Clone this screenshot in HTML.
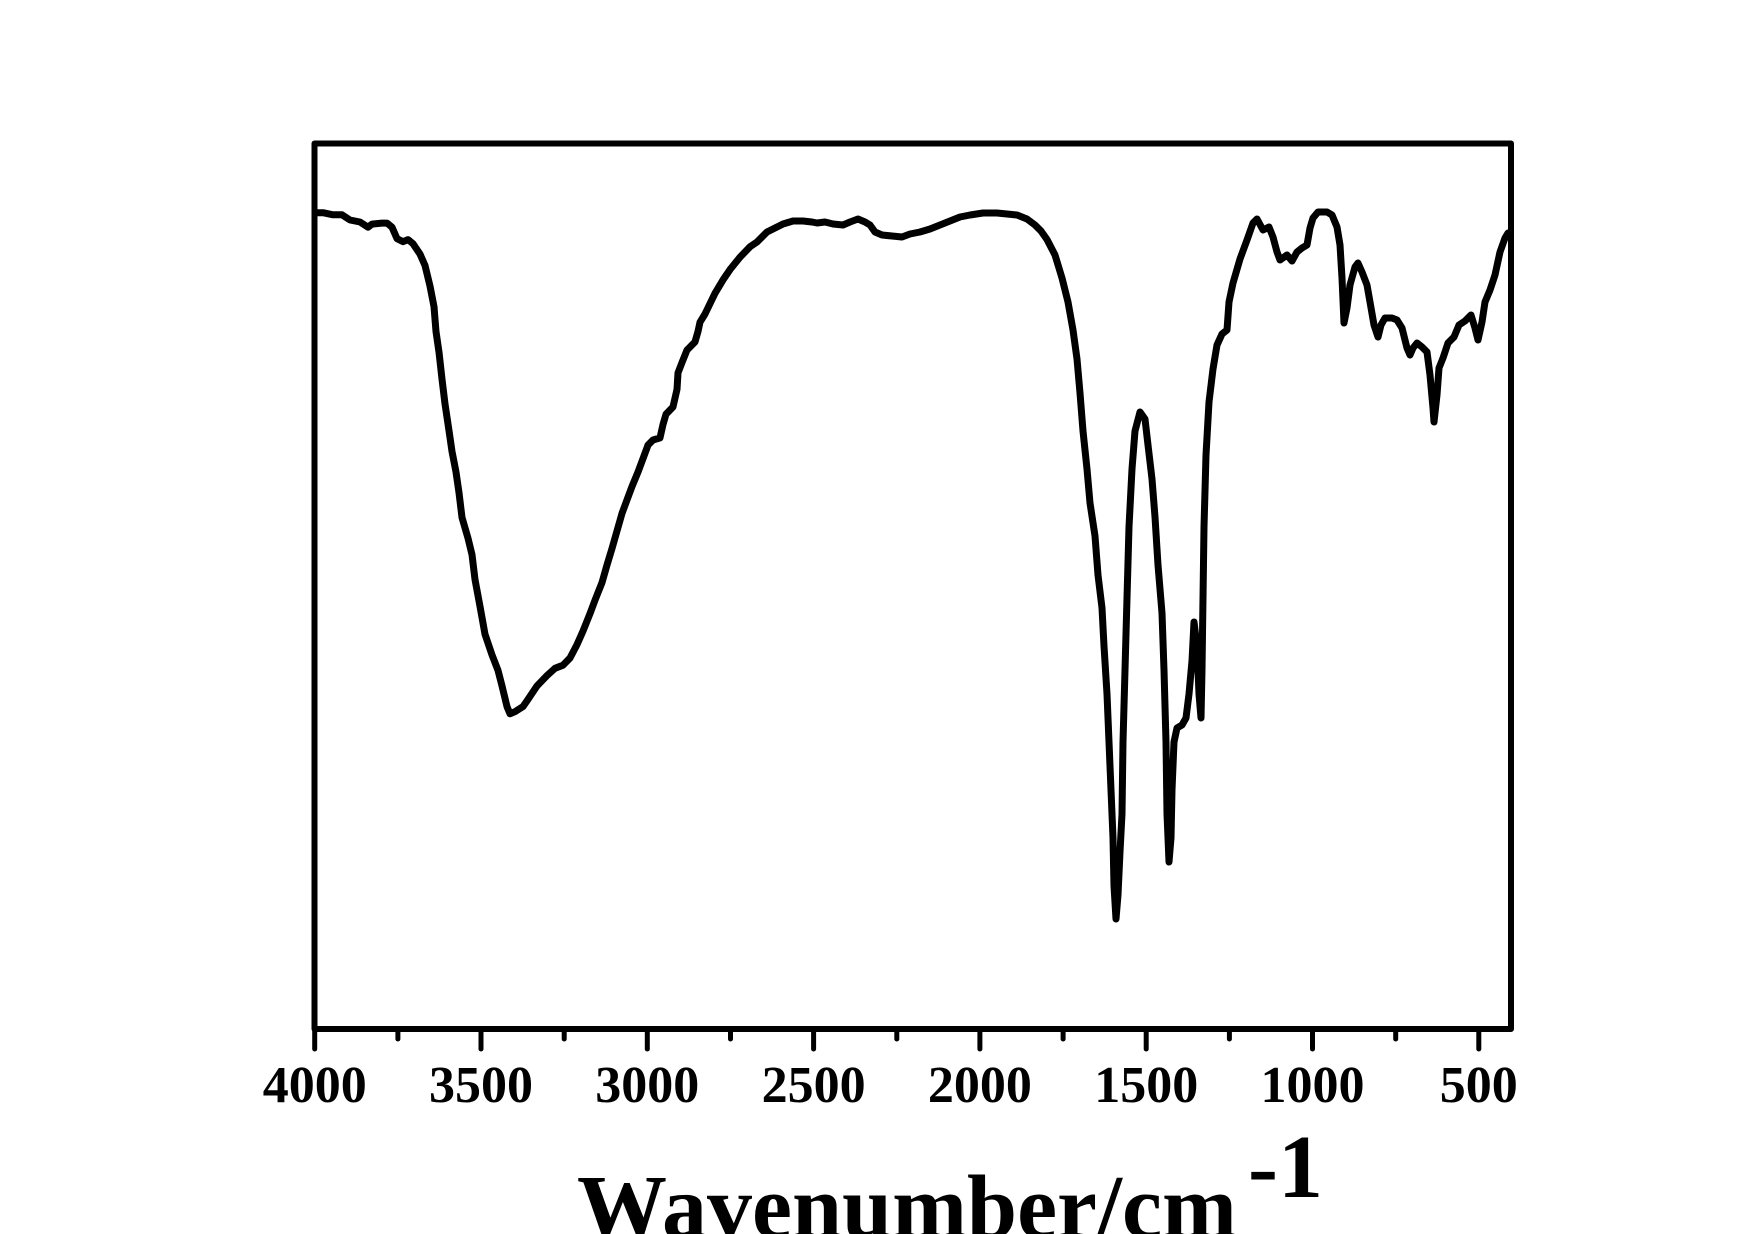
<!DOCTYPE html>
<html>
<head>
<meta charset="utf-8">
<style>
  html, body { margin: 0; padding: 0; background: #ffffff; }
  svg { display: block; }
  text { font-family: "Liberation Serif", "Times New Roman", serif; font-weight: bold; fill: #000; }
</style>
</head>
<body>
<svg width="1755" height="1234" viewBox="0 0 1755 1234" xmlns="http://www.w3.org/2000/svg">
  <rect x="0" y="0" width="1755" height="1234" fill="#ffffff"/>

  <!-- frame -->
  <rect x="314.5" y="143.5" width="1196.5" height="885.5" fill="none" stroke="#000" stroke-width="6" stroke-linejoin="round"/>

  <!-- ticks -->
  <g stroke="#000" stroke-width="5" stroke-linecap="round">
    <line x1="314.7" y1="1029" x2="314.7" y2="1049"/>
    <line x1="397.9" y1="1029" x2="397.9" y2="1039"/>
    <line x1="481.0" y1="1029" x2="481.0" y2="1049"/>
    <line x1="564.2" y1="1029" x2="564.2" y2="1039"/>
    <line x1="647.3" y1="1029" x2="647.3" y2="1049"/>
    <line x1="730.5" y1="1029" x2="730.5" y2="1039"/>
    <line x1="813.6" y1="1029" x2="813.6" y2="1049"/>
    <line x1="896.8" y1="1029" x2="896.8" y2="1039"/>
    <line x1="979.9" y1="1029" x2="979.9" y2="1049"/>
    <line x1="1063.1" y1="1029" x2="1063.1" y2="1039"/>
    <line x1="1146.2" y1="1029" x2="1146.2" y2="1049"/>
    <line x1="1229.4" y1="1029" x2="1229.4" y2="1039"/>
    <line x1="1312.5" y1="1029" x2="1312.5" y2="1049"/>
    <line x1="1395.7" y1="1029" x2="1395.7" y2="1039"/>
    <line x1="1478.8" y1="1029" x2="1478.8" y2="1049"/>
  </g>

  <!-- tick labels -->
  <g font-size="52" text-anchor="middle">
    <text x="314.7" y="1102">4000</text>
    <text x="481.0" y="1102">3500</text>
    <text x="647.3" y="1102">3000</text>
    <text x="813.6" y="1102">2500</text>
    <text x="979.9" y="1102">2000</text>
    <text x="1146.2" y="1102">1500</text>
    <text x="1312.5" y="1102">1000</text>
    <text x="1478.8" y="1102">500</text>
  </g>

  <!-- axis title -->
  <text x="577" y="1237" font-size="90">Wavenumber/cm</text>
  <text x="1248" y="1197" font-size="90">-1</text>

  <!-- spectrum -->
  <polyline fill="none" stroke="#000" stroke-width="7" stroke-linejoin="round" stroke-linecap="round"
    points="315,212.7 323,212.7 333,214.8 342,214.8 350,220 360,222 368,227.2 372,224.1 382,223.1 387,223.1 392,227.2 397,238.6 403,241.7 408,239.6 413,243.7 420,254.1 425,265.4 430,286.1 434,306.7 436,331.5 439,352.2 442,379.1 445,403.9 449,430.7 452,451.4 456,472 459,492.7 462,517.5 468,538.2 472,554.7 475,579.5 480,606.4 485,634.2 492,654.9 498,670.4 502,685.9 507,706.6 510,713.8 515,711.7 523,706.6 528,699.4 537,685.9 547,675.6 555,668.3 563,665.2 570,658 577,644.6 583,631.1 590,613.6 595,600.2 602,582.6 607,565 612,548.5 617,530.9 622,513.4 627,499.9 632,486.5 638,472 643,458.6 648,445.1 653,440 660,437.9 663,424.5 666,414.2 673,406.9 677,389.4 678,372.9 682,362.5 687,350.1 695,341.9 698,331.5 700,322.2 705,314 710,303.6 715,293.3 723,279.9 730,269.6 740,257.2 750,246.8 757,242 767,232 775,228 783,224 793,221 803,221 812,222 817,223 825,222 833,224 843,225 850,222 858,219 865,222 870,225 875,232 882,235 892,236 902,237 910,234 920,232 930,229 940,225 950,221 960,217 970,215 983,213 997,213 1007,214 1017,215 1027,219 1035,225 1041,231 1047,239.5 1055,255 1062,278 1068,302 1073,330 1077,359 1080,393 1083,431 1087,469 1090,503 1095,536 1098,575 1102,608 1104,646 1107,694 1109,742 1111,790 1113,838 1114,886 1116,919 1118,895 1120,852 1122,814 1123,742 1125,670 1127,598 1129,527 1132,469 1135,431 1140,412 1145,419 1148,445 1152,479 1155,517 1158,565 1162,613 1164,670 1166,742 1167,814 1169,862 1171,838 1172,790 1174,742 1177,728 1182,725 1186,718 1189,694 1192,661 1194,622 1197,646 1199,694 1201,718 1202,670 1203,598 1204,527 1206,455 1209,402 1213,369 1217,345 1222,334 1227,330 1229,302 1233,283 1240,259 1247,240 1253,223 1257,219 1263,230 1269,227 1273,237 1277,252 1280,260 1287,255 1292,261 1297,252 1302,248 1307,245 1310,228 1313,218 1318,212 1327,212 1332,215 1337,227 1340,245 1342,278 1344,323 1347,308 1350,285 1355,267 1358,263 1362,272 1367,285 1370,302 1374,325 1378,337 1381,325 1385,318 1392,318 1397,320 1402,328 1407,348 1410,355 1413,348 1417,343 1422,347 1427,352 1430,375 1433,408 1434,422 1437,395 1439,368 1443,358 1448,343 1454,337 1459,325 1465,321 1471,315 1475,328 1478,340 1482,322 1485,302 1490,290 1495,275 1500,252 1505,238 1508,233"/>
</svg>
</body>
</html>
